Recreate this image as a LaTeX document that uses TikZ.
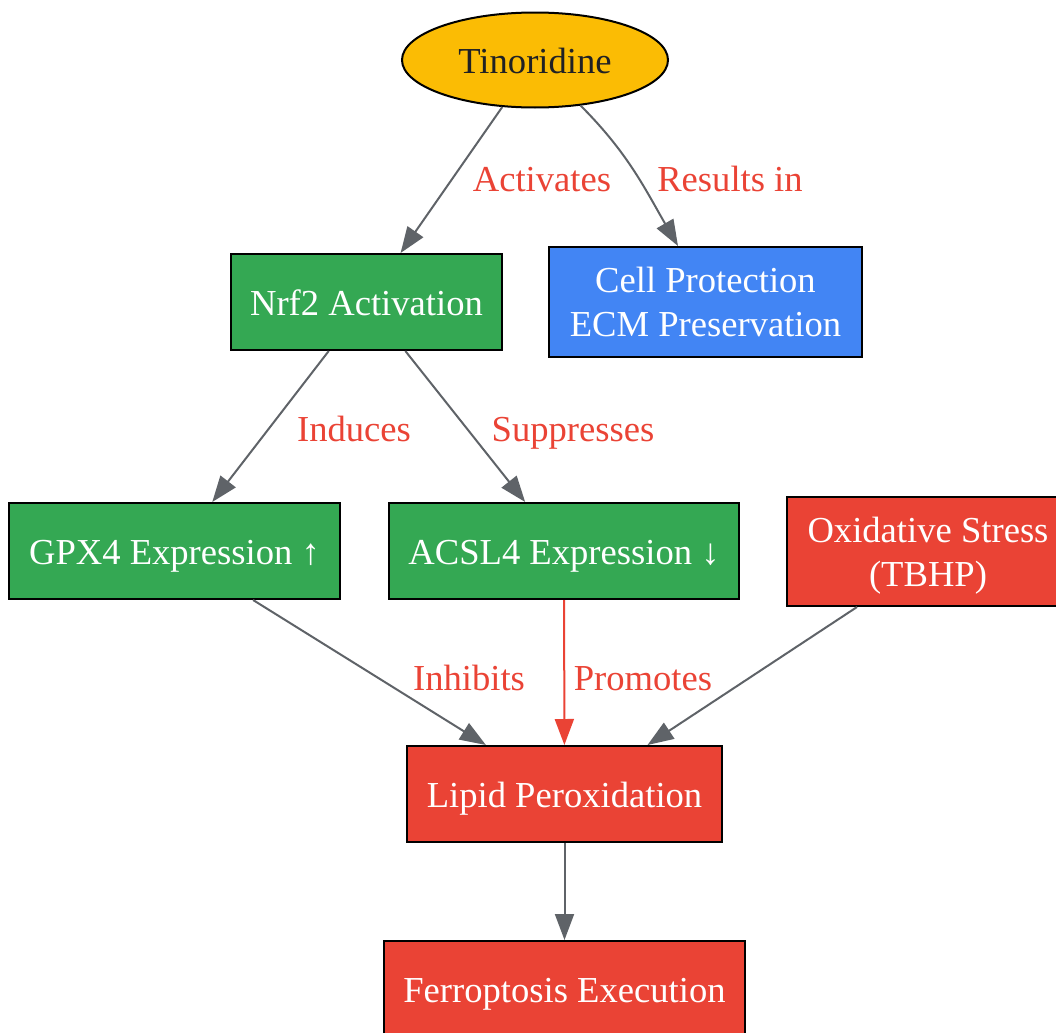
\documentclass[tikz,border=0pt]{standalone}
\usepackage{fontspec}
\setmainfont{Liberation Serif}
\usetikzlibrary{arrows.meta,shapes.geometric}
\definecolor{gGreen}{HTML}{34A853}
\definecolor{gBlue}{HTML}{4285F4}
\definecolor{gRed}{HTML}{EA4335}
\definecolor{gYellow}{HTML}{FBBC04}
\definecolor{gGray}{HTML}{5F6368}
\definecolor{gDark}{HTML}{202124}
\tikzset{
  box/.style={draw=black, line width=1pt, rectangle, inner sep=0pt, text=white, align=center, font=\fontsize{18.3}{22}\selectfont},
  oneline/.style={text height=13pt, text depth=0pt},
  twoline/.style={text depth=#1},
  greenbox/.style={box, fill=gGreen},
  bluebox/.style={box, fill=gBlue},
  redbox/.style={box, fill=gRed},
  edge/.style={draw=gGray, line width=1pt, -{Triangle[length=13pt,width=9.5pt]}},
  redge/.style={edge, draw=gRed, -{Triangle[length=13pt,width=9.5pt,fill=gRed]}},
  elabel/.style={text=gRed, inner sep=0pt, oneline, font=\fontsize{18.3}{22}\selectfont},
}
\begin{document}
\begin{tikzpicture}[x=0.5pt,y=-0.5pt]
\useasboundingbox (0,0) rectangle (1056,1033);
\begin{scope}
\clip (0,0) rectangle (1056,1033);
\node[ellipse, draw=black, line width=1pt, fill=gYellow, text=gDark, inner sep=0pt, oneline,
      minimum width=133pt, minimum height=47.5pt, font=\fontsize{18.3}{22}\selectfont] (tin) at (535,60) {Tinoridine};
\node[greenbox, oneline, minimum width=135.5pt, minimum height=48pt] (nrf) at (366.5,302) {Nrf2 Activation};
\node[bluebox, twoline=-2.7pt, minimum width=156.5pt, minimum height=55pt] (cell) at (705.5,302) {Cell Protection\\ECM Preservation};
\node[greenbox, oneline, minimum width=165.5pt, minimum height=48pt] (gpx) at (174.5,551) {GPX4 Expression ↑};
\node[greenbox, oneline, minimum width=175pt, minimum height=48pt] (acsl) at (564,551) {ACSL4 Expression ↓};
\node[redbox, twoline=-1.5pt, minimum width=141pt, minimum height=54.5pt] (ox) at (928,551.5) {Oxidative Stress\\(TBHP)};
\node[redbox, oneline, minimum width=157.5pt, minimum height=48pt] (lipid) at (564.5,794) {Lipid Peroxidation};
\node[redbox, oneline, minimum width=180.5pt, minimum height=48pt] (ferr) at (564.5,989) {Ferroptosis Execution};

\draw[edge] (tin) -- (nrf);
\draw[edge] (tin) to[out=-45, in=120] ([xshift=-13.75pt]cell.north);
\draw[edge] (nrf) -- (gpx);
\draw[edge] (nrf) -- (acsl);
\draw[edge] (gpx) -- (lipid);
\draw[redge] (acsl) -- (lipid);
\draw[edge] ([xshift=-35.5pt]ox.south) -- ([xshift=41.5pt]lipid.north);
\draw[edge] (lipid) -- (ferr);

\node[elabel] (l1) at (542,178) {Activates};
\node[elabel] (l2) at (730,178) {Results in};
\node[elabel] (l3) at (354,428) {Induces};
\node[elabel] (l4) at (573,428) {Suppresses};
\node[elabel] (l5) at (469,677) {Inhibits};
\node[elabel] (l6) at (643,677) {Promotes};
\end{scope}
\end{tikzpicture}
\end{document}
